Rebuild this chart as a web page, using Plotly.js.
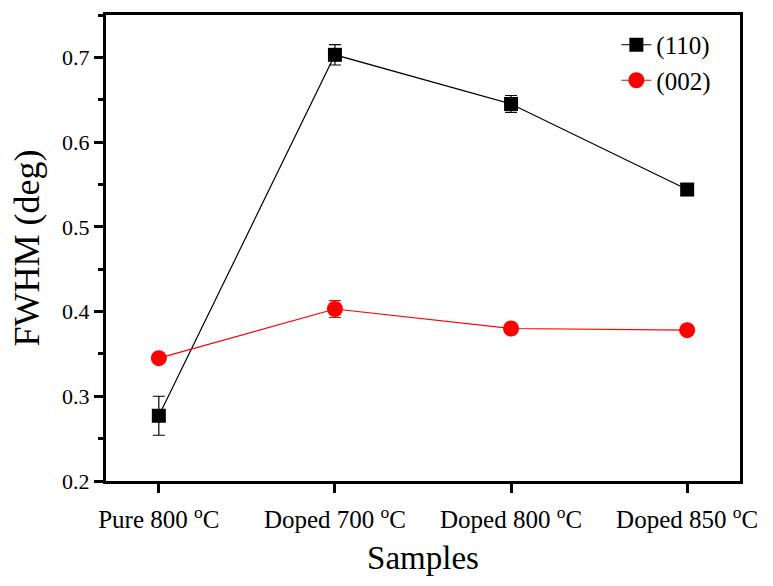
<!DOCTYPE html>
<html>
<head>
<meta charset="utf-8">
<script src="https://cdn.plot.ly/plotly-3.0.1.min.js"></script>
<style>html,body{margin:0;padding:0;background:#fff;}#chart{width:773px;height:586px;}</style>
</head>
<body>
<div id="chart"></div>
<script>
var categories = [0, 1, 2, 3];
var tickLabels = ["Pure 800 <sup>o</sup>C", "Doped 700 <sup>o</sup>C", "Doped 800 <sup>o</sup>C", "Doped 850 <sup>o</sup>C"];
var fwhm110 = [0.277, 0.703, 0.645, 0.544];
var err110 = [0.023, 0.012, 0.010, 0.004];
var fwhm002 = [0.345, 0.403, 0.380, 0.378];
var err002 = [0.004, 0.010, 0.005, 0.004];
var yTicks = [0.2, 0.3, 0.4, 0.5, 0.6, 0.7];
var yTickText = ["0.2", "0.3", "0.4", "0.5", "0.6", "0.7"];
var yMinorTicks = [0.25, 0.35, 0.45, 0.55, 0.65, 0.75];

var font = "'Liberation Serif', 'Times New Roman', serif";

var traces = [
  {
    x: categories, y: fwhm110, name: "(110)", type: "scatter", mode: "lines+markers",
    line: {color: "#000000", width: 1.2},
    marker: {symbol: "square", size: 14, color: "#000000"},
    error_y: {type: "data", array: err110, visible: true, color: "#000000", thickness: 1.2, width: 6}
  },
  {
    x: categories, y: fwhm002, name: "(002)", type: "scatter", mode: "lines+markers",
    line: {color: "#ff0000", width: 1.2},
    marker: {symbol: "circle", size: 16, color: "#ff0000"},
    error_y: {type: "data", array: err002, visible: true, color: "#ff0000", thickness: 1.2, width: 6}
  }
];

var layout = {
  width: 773, height: 586,
  margin: {l: 106, r: 33, t: 15, b: 105},
  paper_bgcolor: "#ffffff", plot_bgcolor: "#ffffff",
  font: {family: font, color: "#000000", size: 22},
  showlegend: true,
  legend: {x: 0.805, y: 0.985, xanchor: "left", yanchor: "top", bgcolor: "rgba(0,0,0,0)",
           font: {family: font, size: 25, color: "#000000"}, tracegroupgap: 0},
  xaxis: {
    range: [-0.3, 3.3], tickvals: categories, ticktext: tickLabels,
    showline: true, linecolor: "#000000", linewidth: 3, mirror: true,
    ticks: "outside", ticklen: 9, tickwidth: 3, tickcolor: "#000000",
    ticklabelstandoff: 5,
    showgrid: false, zeroline: false,
    tickfont: {family: font, size: 25, color: "#000000"},
    title: {text: "Samples", font: {family: font, size: 33, color: "#000000"}, standoff: 14}
  },
  yaxis: {
    range: [0.2, 0.75], tickvals: yTicks, ticktext: yTickText,
    showline: true, linecolor: "#000000", linewidth: 3, mirror: true,
    ticks: "outside", ticklen: 9, tickwidth: 3, tickcolor: "#000000",
    minor: {tickvals: yMinorTicks, ticks: "outside", ticklen: 5, tickwidth: 3, tickcolor: "#000000", showgrid: false},
    showgrid: false, zeroline: false,
    tickfont: {family: font, size: 22, color: "#000000"},
    title: {text: "FWHM (deg)", font: {family: font, size: 36, color: "#000000"}, standoff: 12}
  }
};

Plotly.newPlot("chart", traces, layout, {displayModeBar: false, staticPlot: true});
</script>
</body>
</html>
